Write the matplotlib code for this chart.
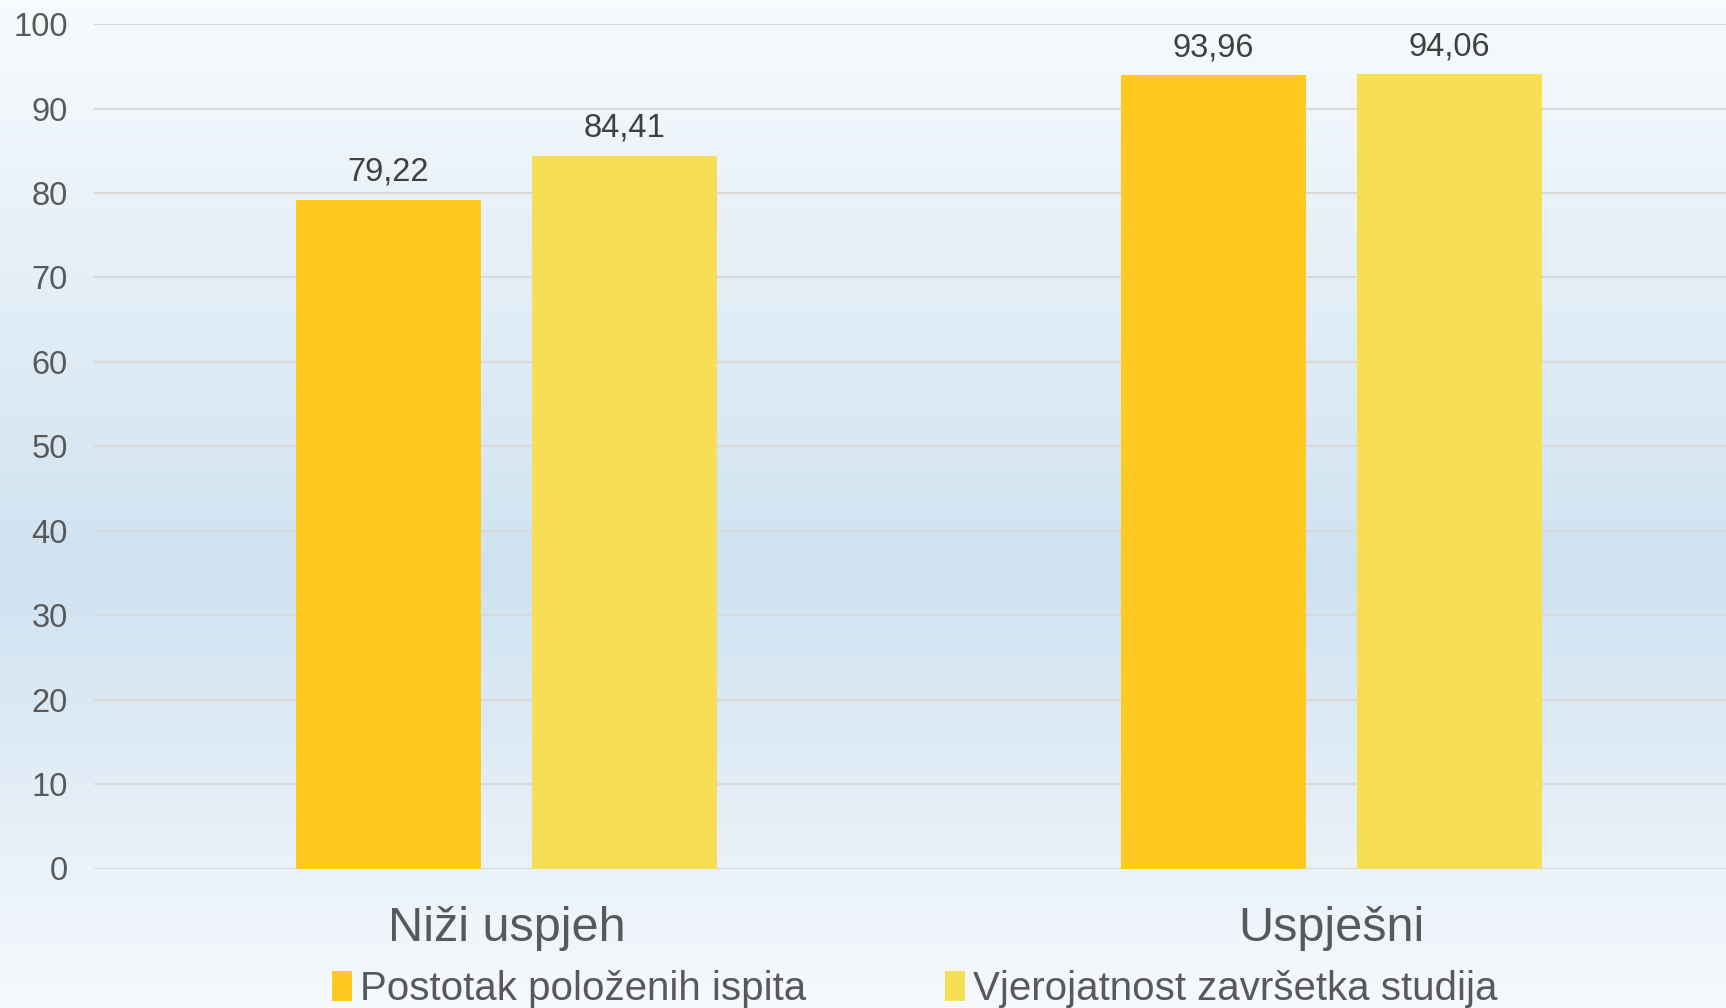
import matplotlib
import matplotlib.pyplot as plt
import numpy as np
from matplotlib.colors import LinearSegmentedColormap
from matplotlib.patches import Patch

matplotlib.use('Agg')

plt.rcParams['font.family'] = ['Liberation Sans', 'DejaVu Sans']

# Data
categories = ['Niži uspjeh', 'Uspješni']
series_names = ['Postotak položenih ispita', 'Vjerojatnost završetka studija']
passed_exams = [79.22, 93.96]
completion_prob = [84.41, 94.06]
value_labels = [['79,22', '93,96'], ['84,41', '94,06']]
y_ticks = [0, 10, 20, 30, 40, 50, 60, 70, 80, 90, 100]

colors = ['#FFC91F', '#F6DF55']
narrow = ['Liberation Sans Narrow', 'Liberation Sans', 'DejaVu Sans']

W, H = 1726, 1008
fig = plt.figure(figsize=(W / 100, H / 100), dpi=100)

# Background gradient (light top/bottom, light blue middle)
bg = fig.add_axes([0, 0, 1, 1], zorder=-10)
cmap = LinearSegmentedColormap.from_list(
    'bg', [(0.0, '#f8fbfd'), (0.57, '#cfe2f1'), (1.0, '#f6f9fd')])
grad = np.linspace(0, 1, 256).reshape(-1, 1)
bg.imshow(grad, aspect='auto', cmap=cmap, extent=[0, 1, 0, 1], origin='upper')
bg.axis('off')

left = 94 / W
bottom = 1 - 868.5 / H
top = 1 - 24.2 / H
ax = fig.add_axes([left, bottom, 1 - left, top - bottom])
ax.patch.set_alpha(0)

x = np.arange(len(categories))
bw = 0.224
off = 0.143
bars1 = ax.bar(x - off, passed_exams, bw, color=colors[0], zorder=3)
bars2 = ax.bar(x + off, completion_prob, bw, color=colors[1], zorder=3)

for bars, labels in zip([bars1, bars2], value_labels):
    for b, lab in zip(bars, labels):
        ax.annotate(lab, (b.get_x() + b.get_width() / 2, b.get_height()),
                    xytext=(0, 12), textcoords='offset pixels',
                    ha='center', va='bottom', fontsize=23.5, color='#404040')

ax.set_ylim(0, 100)
ax.set_xlim(-0.5, -0.5 + (W - 94) / 825)
ax.set_yticks(y_ticks)
ax.set_yticklabels([str(t) for t in y_ticks], fontsize=23.5, color='#595959')
ax.set_xticks(x)
ax.set_xticklabels(categories, fontsize=35, color='#595959', family=narrow)
ax.tick_params(axis='y', length=0, pad=19)
ax.tick_params(axis='x', length=0, pad=27)
ax.grid(axis='y', color='#d9d9d9', linewidth=1.5, zorder=0)
for s in ax.spines.values():
    s.set_visible(False)

handles = [Patch(facecolor=c, edgecolor='none') for c in colors]
fig.legend(handles, series_names, loc='center', bbox_to_anchor=(0.530, 0.019),
           ncol=2, frameon=False, prop={'family': narrow, 'size': 29},
           labelcolor='#595959', handlelength=0.5, handleheight=0.75,
           handletextpad=0.2, columnspacing=3.45)

fig.savefig('out.png', dpi=100)
